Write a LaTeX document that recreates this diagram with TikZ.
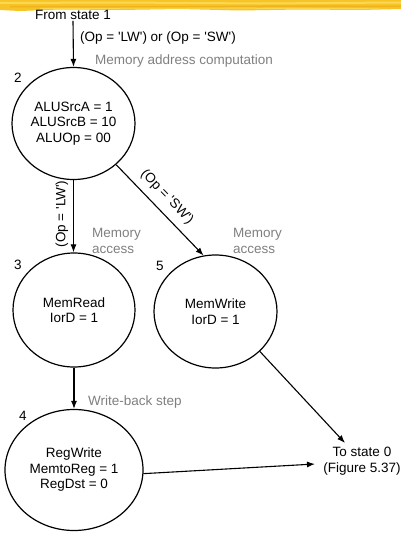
\documentclass[tikz,border=0pt]{standalone}
\usepackage{fontspec}
\setmainfont{Liberation Sans}
\usetikzlibrary{shapes.geometric,arrows.meta}
\definecolor{brush}{RGB}{246,196,38}
\definecolor{brushlight}{RGB}{251,222,96}
\definecolor{brushdark}{RGB}{236,168,22}
\definecolor{notegray}{RGB}{128,128,128}
\newcommand\diagfont{\fontsize{13.5}{15.5}\selectfont}
\tikzset{
  statenode/.style={ellipse, draw, line width=1.2pt, inner sep=0pt, align=center, font=\diagfont},
  plain/.style={inner sep=1pt, font=\diagfont, align=center},
  note/.style={inner sep=0pt, font=\diagfont, text=notegray, align=left, anchor=west},
  num/.style={inner sep=0pt, font=\diagfont},
  flow/.style={line width=1.1pt, -{Latex[length=8pt,width=6pt]}},
}
\begin{document}
\begin{tikzpicture}[x={(1pt,0)}, y={(0,-1pt)}]
\useasboundingbox (0,0) rectangle (401,533);
\fill[white] (0,0) rectangle (401,533);
% brush stroke along the top edge
\fill[brush] (0,0) -- (401,0) -- (401,9) -- (360,10) -- (300,9.5) -- (240,10.5) -- (180,9) -- (120,10) -- (60,9.5) -- (20,11) -- (0,10) -- cycle;
\draw[brushlight, line width=2pt, opacity=0.8] (0,3) -- (120,2.5) -- (260,3.5) -- (401,2.5);
\draw[brushdark, line width=1.5pt, opacity=0.6] (10,6.5) -- (150,7) -- (300,6) -- (401,6.5);
\draw[brushlight, line width=1pt, opacity=0.7] (40,8.5) -- (200,8) -- (380,8.8);

% states
\node[statenode, minimum width=123pt, minimum height=112pt] (s2) at (73.5,123.5)
  {ALUSrcA = 1\\ALUSrcB = 10\\ALUOp = 00};
\node[statenode, minimum width=122pt, minimum height=114pt] (s3) at (74,310)
  {MemRead\\IorD = 1};
\node[statenode, minimum width=123pt, minimum height=113pt] (s5) at (215.5,311.5)
  {MemWrite\\IorD = 1};
\node[statenode, minimum width=138pt, minimum height=121pt] (s4) at (74,470)
  {RegWrite\\MemtoReg = 1\\RegDst = 0};

% state numbers
\node[num] (n2) at (18,78) {2};
\node[num] (n3) at (18,265) {3};
\node[num] (n5) at (160,266) {5};
\node[num] (n4) at (23,416) {4};

% entry and exit texts
\node[plain] (from) at (73,15) {From state 1};
\node[plain, inner sep=0pt] (to0) at (362,461) {To state 0\\(Figure 5.37)};
\coordinate (to0top) at (345,443);
\coordinate (to0left) at (315,464);

% step notes
\node[note] (memaddr) at (95,61) {Memory address computation};
\node[note] (memacc3) at (92,241) {Memory\\access};
\node[note] (memacc5) at (233,241) {Memory\\access};
\node[note] (wb) at (88,402) {Write-back step};

% transitions
\draw[flow] (from.south) -- (s2.north);
\node[plain, anchor=west, inner sep=0pt] (cond1) at (80,38)
  {(Op = \textquotesingle LW\textquotesingle) or (Op = \textquotesingle SW\textquotesingle)};
\draw[flow] (s2.south) -- (s2.south |- s3.north);
\node[plain, rotate=90, inner sep=0pt] (condlw) at (62,214)
  {(Op = \textquotesingle LW\textquotesingle)};
\draw[flow] (s2.-44) -- (s5.102);
\node[plain, rotate=-46, inner sep=0pt] (condsw) at (167,197)
  {(Op = \textquotesingle SW\textquotesingle)};
\draw[flow] (s3.south) -- (s3.south |- s4.north);
\draw[flow] (s5.-42) -- (to0top);
\draw[flow] (s4.-3) -- (to0left);
\end{tikzpicture}
\end{document}
